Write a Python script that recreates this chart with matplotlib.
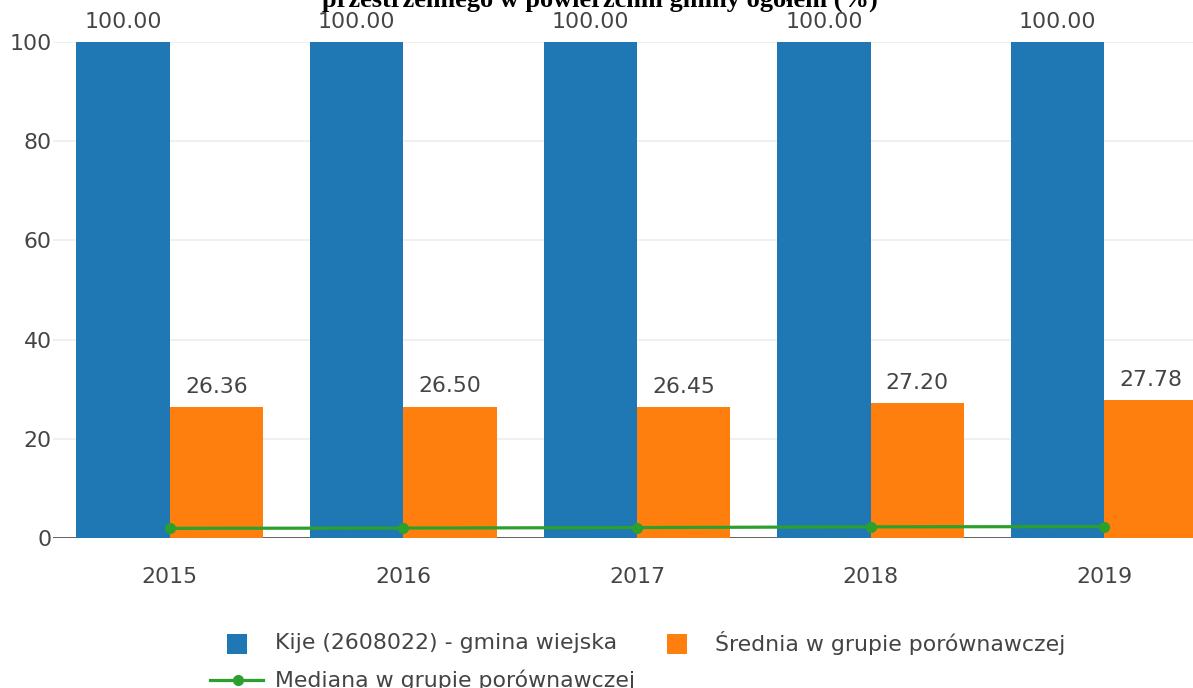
import matplotlib
matplotlib.use("Agg")
import matplotlib.pyplot as plt
from matplotlib.patches import Rectangle
from matplotlib.lines import Line2D
import numpy as np

years = ["2015", "2016", "2017", "2018", "2019"]
kije = [100.00, 100.00, 100.00, 100.00, 100.00]
srednia = [26.36, 26.50, 26.45, 27.20, 27.78]
mediana = [1.95, 2.00, 2.10, 2.25, 2.30]

series_names = ["Kije (2608022) - gmina wiejska",
                "Średnia w grupie porównawczej",
                "Mediana w grupie porównawczej"]
title_line = "przestrzennego w powierzchni gminy ogółem (%)"

BLUE = "#1f77b4"
ORANGE = "#ff7f0e"
GREEN = "#2ca02c"
TEXT = "#444444"
FS = 15.8

W, H = 1193, 688
fig = plt.figure(figsize=(W / 100, H / 100), dpi=100)
plt.rcParams["font.family"] = ["DejaVu Sans"]


def px(x, y):
    """Figure fraction from pixel coordinates measured from the top-left."""
    return x / W, 1 - y / H


# Plot area (its right part runs past the figure edge)
left, right, top, bottom = 53, 1221, 42, 538
ax = fig.add_axes([left / W, 1 - bottom / H, (right - left) / W, (bottom - top) / H])

x = np.arange(len(years))
bw = 0.4
b1 = ax.bar(x - bw / 2, kije, bw, color=BLUE, zorder=2, clip_on=False)
b2 = ax.bar(x + bw / 2, srednia, bw, color=ORANGE, zorder=2, clip_on=False)
ax.plot(x, mediana, color=GREEN, lw=2.3, marker="o", ms=7, zorder=3)

for bars, vals in ((b1, kije), (b2, srednia)):
    for r, v in zip(bars, vals):
        ax.annotate(f"{v:.2f}", (r.get_x() + r.get_width() / 2, v),
                    xytext=(0, 14.5), textcoords="offset points",
                    ha="center", va="center", fontsize=FS, color=TEXT,
                    annotation_clip=False)

ax.set_xlim(-0.5, len(years) - 0.5)
ax.set_ylim(0, 100)
ax.set_yticks([0, 20, 40, 60, 80, 100])
ax.set_xticks(x)
ax.set_xticklabels(years)
ax.tick_params(axis="both", length=0, labelsize=FS, colors=TEXT)
ax.tick_params(axis="y", pad=1)
ax.tick_params(axis="x", pad=21)
ax.grid(axis="y", color="#eeeeee", lw=1.2, zorder=0)
ax.set_axisbelow(True)
for s in ax.spines.values():
    s.set_visible(False)
ax.axhline(0, color="#555555", lw=1.3, zorder=1)

# Title (second line, cut at the top edge)
tx, ty = px(600, 7)
fig.text(tx, ty, title_line, ha="center", va="baseline", fontsize=19,
         fontweight="bold", family="Liberation Serif", color="black")

# Legend
sq = 20
for (sx, sy), c in (((227, 634), BLUE), ((667, 634), ORANGE)):
    fx, fy = px(sx, sy + sq)
    fig.add_artist(Rectangle((fx, fy), sq / W, sq / H, transform=fig.transFigure,
                             color=c, lw=0))
lx0, ly = px(210, 680)
lx1, _ = px(263, 680)
fig.add_artist(Line2D([lx0, lx1], [ly, ly], transform=fig.transFigure,
                      color=GREEN, lw=2.3))
mx, _ = px(238, 680)
fig.add_artist(Line2D([mx], [ly], transform=fig.transFigure, color=GREEN,
                      marker="o", ms=7))
for (tx, tyy), name in zip(((275, 643), (715, 643), (275, 680)), series_names):
    fx, fy = px(tx, tyy)
    fig.text(fx, fy, name, ha="left", va="center", fontsize=FS, color=TEXT)

fig.savefig("out.png", dpi=100, facecolor="white")
